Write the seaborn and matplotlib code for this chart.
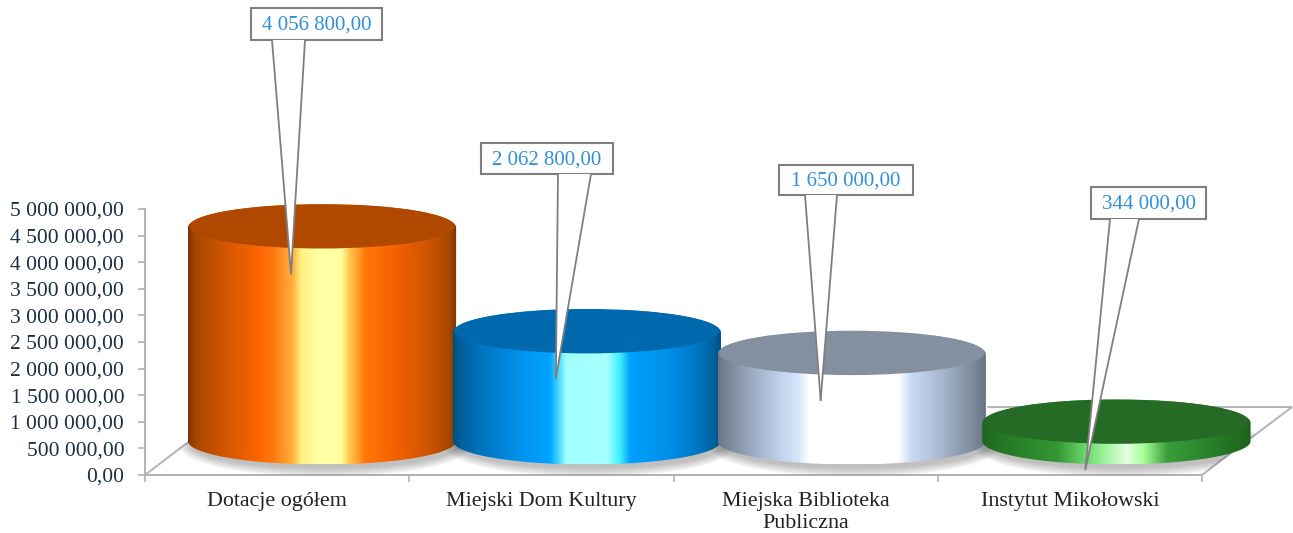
import numpy as np
import pandas as pd
import matplotlib
matplotlib.use("Agg")
import matplotlib.pyplot as plt
from matplotlib.colors import LinearSegmentedColormap
from matplotlib.patches import Ellipse, PathPatch, Polygon, Rectangle
from matplotlib.path import Path
from matplotlib.transforms import Affine2D
import seaborn as sns

# ---- data ----
categories = ["Dotacje ogółem", "Miejski Dom Kultury", "Miejska Biblioteka\nPubliczna", "Instytut Mikołowski"]
values = [4056800, 2062800, 1650000, 344000]
y_ticks = [0, 500000, 1000000, 1500000, 2000000, 2500000, 3000000, 3500000, 4000000, 4500000, 5000000]

# ---- styles ----
top_colors = ["#b04800", "#0068ad", "#84909f", "#256a25"]
side_stops = [
    [(0, "#7c3600"), (.03, "#a84800"), (.12, "#cc5400"), (.26, "#fb6400"), (.32, "#ff7a10"), (.39, "#ffb040"),
     (.42, "#fff080"), (.48, "#ffffa8"), (.57, "#ffffa0"), (.60, "#ffc850"), (.66, "#ff7808"), (.76, "#f86200"),
     (.90, "#cc5400"), (.97, "#a84800"), (1, "#7c3600")],
    [(0, "#004f80"), (.03, "#00609c"), (.12, "#0078c4"), (.26, "#0094f0"), (.36, "#00a4ff"), (.39, "#40d4ff"),
     (.42, "#a0ffff"), (.57, "#a8ffff"), (.62, "#40f0ff"), (.66, "#00a0ff"), (.80, "#0090ea"), (.92, "#0074be"),
     (.97, "#00609c"), (1, "#004f80")],
    [(0, "#6a7686"), (.05, "#808c9e"), (.14, "#9fb0c8"), (.24, "#c4d6f0"), (.30, "#d8e6fa"), (.34, "#ffffff"),
     (.67, "#ffffff"), (.72, "#c8daf4"), (.84, "#a4b4cc"), (.95, "#7e8a9c"), (1, "#667282")],
    [(0, "#1e661e"), (.10, "#267c26"), (.28, "#339733"), (.36, "#60c860"), (.44, "#90f090"), (.54, "#e4ffe0"),
     (.60, "#a8ff98"), (.69, "#3a9e3a"), (.85, "#2a802a"), (1, "#1c621c")],
]
GRID = "#b3b3b3"
LABEL = "#7f7f7f"
W, H = 1293, 533
SEMI_PX = 23.5
PX_PER_UNIT = 52.6 / 1e6
FRONT_Y0 = 441
FRONT_L, FRONT_R = 189.6, 1248.9
box_px = [(251, 382, 8, 40, 272, 305), (481, 613, 143, 174, 558, 591),
          (779, 913, 165, 195, 805, 837), (1091, 1206, 187, 219, 1110, 1139)]
TIP_DX, TIP_DY = -31, 46

sns.set_theme(style="white")
plt.rcParams["font.family"] = ["Liberation Serif", "DejaVu Serif"]
fig = plt.figure(figsize=(W / 100, H / 100), dpi=100, facecolor="white")
px = Affine2D().scale(1, -1).translate(0, H)  # top-left pixel coordinates for layout furniture


def axes_rect(l, r, t, b):
    return [l / W, (H - b) / H, (r - l) / W, (b - t) / H]


# ---- value axis and category axis ----
ax0 = fig.add_axes(axes_rect(145, 1202, 209, 475))
ax0.set_xlim(-0.5, 3.5)
ax0.set_ylim(0, 5000000)
ax0.set_yticks(y_ticks)
ax0.set_yticklabels([f"{v:,.2f}".replace(",", " ").replace(".", ",") for v in y_ticks],
                    fontsize=15.5, color="#1c2f44")
ax0.set_xticks(np.arange(-0.5, 4, 1))
ax0.set_xticklabels([])
ax0.set_xticks(range(4), minor=True)
ax0.set_xticklabels(categories, minor=True, fontsize=15.8, color="#222222", linespacing=1.25)
ax0.tick_params(axis="x", which="major", length=5, width=1.2, color=GRID, bottom=True)
ax0.tick_params(axis="x", which="minor", length=0, pad=12, bottom=False)
ax0.tick_params(axis="y", length=5, width=1.2, color=GRID, left=True, pad=10)
for s in ["top", "right"]:
    ax0.spines[s].set_visible(False)
for s in ["left", "bottom"]:
    ax0.spines[s].set_color(GRID)
    ax0.spines[s].set_linewidth(1.4)
ax0.patch.set_alpha(0)

# ---- floor ----
floor_pts = [(145, 475), (234, 407), (1292, 407), (1202, 475)]
floor = Polygon(floor_pts, closed=True, facecolor="white", edgecolor=GRID, linewidth=1.4,
                transform=px, zorder=0.5)
ax0.add_patch(floor)
floor.set_clip_on(False)

# ---- front plane axes on which cylinders stand ----
ax = fig.add_axes(axes_rect(FRONT_L, FRONT_R, FRONT_Y0 - 5000000 * PX_PER_UNIT, FRONT_Y0))
ax.patch.set_alpha(0)
df = pd.DataFrame({"category": categories, "value": values})
sns.barplot(data=df, x="category", y="value", hue="category", palette=top_colors, legend=False,
            width=1.013, ax=ax, saturation=1, errorbar=None)
ax.set_xlim(-0.5, 3.5)
ax.set_ylim(0, 5000000)
semi = SEMI_PX / PX_PER_UNIT
px_y = 1 / PX_PER_UNIT
bars = sorted(ax.patches, key=lambda p: p.get_x())
t = np.linspace(0, np.pi, 80)

floor_clip = Polygon(floor_pts, closed=True, transform=px, facecolor="none", edgecolor="none")
ax.add_patch(floor_clip)
floor_clip.set_clip_on(False)

for i, bar in enumerate(bars):
    x0, w, h = bar.get_x(), bar.get_width(), bar.get_height()
    cx = x0 + w / 2
    bar.set_zorder(1)
    # shadow
    for k in range(9):
        sh = Ellipse((cx + 0.012, -4 * px_y), w * (1.0 + 0.012 * k), 2 * semi + 2.2 * k * px_y,
                     facecolor="#3a3a3a", edgecolor="none", alpha=0.04, zorder=1.5)
        ax.add_patch(sh)
        sh.set_clip_path(floor_clip)
        sh.set_clip_box(fig.bbox)
    # side gradient, clipped to the cylinder's silhouette
    xs = np.r_[cx - w / 2 * np.cos(t), cx + w / 2 * np.cos(t)]
    ys = np.r_[h + semi * np.sin(t), -semi * np.sin(t)]
    sil = PathPatch(Path(np.c_[xs, ys]), transform=ax.transData, facecolor="none", edgecolor="none")
    ax.add_patch(sil)
    sil.set_clip_on(False)
    cmap = LinearSegmentedColormap.from_list(f"cyl{i}", side_stops[i], N=512)
    im = ax.imshow(np.linspace(0, 1, 512)[None, :], extent=(x0, x0 + w, -semi, h + semi), aspect="auto",
                   cmap=cmap, vmin=0, vmax=1, interpolation="bilinear", zorder=2 + i, origin="lower")
    im.set_clip_path(sil)
    im.set_clip_box(fig.bbox)
    # top face
    dx = 3 / (FRONT_R - FRONT_L) * 4
    face = Ellipse((cx, h + 1.3 * px_y), w - dx, 2 * semi - 2.6 * px_y, facecolor=top_colors[i],
                   edgecolor="none", zorder=2.5 + i)
    ax.add_patch(face)
    face.set_clip_on(False)
ax.set_xlim(-0.5, 3.5)
ax.set_ylim(0, 5000000)
ax.axis("off")

# ---- callouts ----
fig.canvas.draw()
to_px = ax.transData + px.inverted()
for i, v in enumerate(values):
    l, r, tp, b, t0, t1 = box_px[i]
    tip = to_px.transform((i, v))
    tip = (tip[0] + TIP_DX, tip[1] + TIP_DY)
    fig.add_artist(Rectangle((l, tp), r - l, b - tp, transform=px, facecolor="white", edgecolor=LABEL,
                             linewidth=1.5, zorder=20))
    fig.add_artist(Polygon([(t0, b), tip, (t1, b)], closed=True, transform=px, facecolor="white",
                           edgecolor="none", zorder=21))
    for tb in (t0, t1):
        fig.add_artist(plt.Line2D([tb, tip[0]], [b, tip[1]], transform=px, color=LABEL, lw=1.3, zorder=22))
    fig.text((l + r) / 2, (tp + b) / 2 + 1.5, f"{v:,.2f}".replace(",", " ").replace(".", ","), transform=px,
             ha="center", va="center", fontsize=15, color="#2f8fdc", zorder=23)

fig.savefig("out.png", dpi=100)
